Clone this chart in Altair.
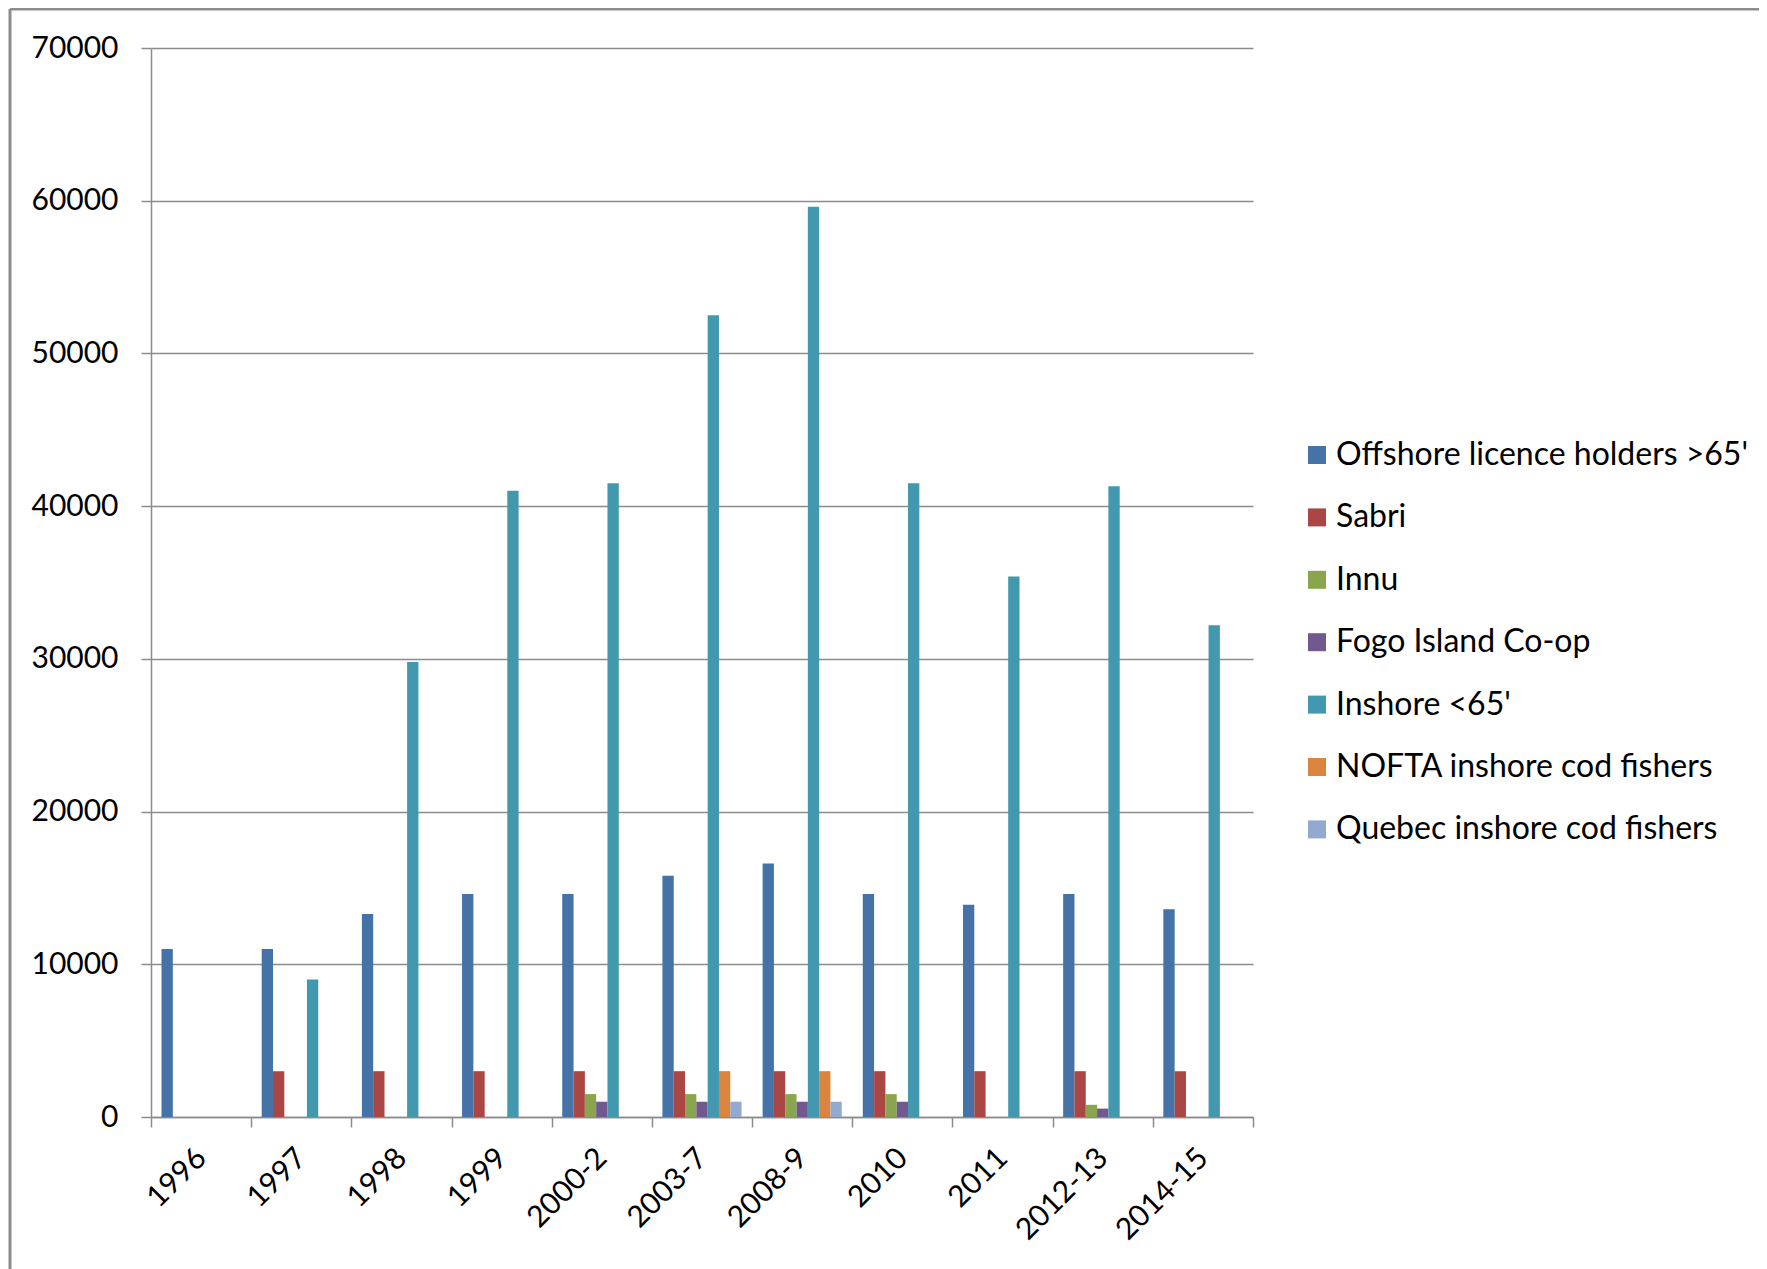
import altair as alt
import pandas as pd

categories = ["1996", "1997", "1998", "1999", "2000-2", "2003-7", "2008-9",
              "2010", "2011", "2012-13", "2014-15"]
series = ["Offshore licence holders >65'", "Sabri", "Innu", "Fogo Island Co-op",
          "Inshore <65'", "NOFTA inshore cod fishers", "Quebec inshore cod fishers"]
colors = ["#4572A7", "#AA4643", "#89A54E", "#71588F", "#4198AF", "#DB843D", "#93A9CF"]

offshore = [11000, 11000, 13300, 14600, 14600, 15800, 16600, 14600, 13900, 14600, 13600]
sabri = [0, 3000, 3000, 3000, 3000, 3000, 3000, 3000, 3000, 3000, 3000]
innu = [0, 0, 0, 0, 1500, 1500, 1500, 1500, 0, 800, 0]
fogo = [0, 0, 0, 0, 1000, 1000, 1000, 1000, 0, 550, 0]
inshore = [0, 9000, 29800, 41000, 41500, 52500, 59600, 41500, 35400, 41300, 32200]
nofta = [0, 0, 0, 0, 0, 3000, 3000, 0, 0, 0, 0]
quebec = [0, 0, 0, 0, 0, 1000, 1000, 0, 0, 0, 0]
y_ticks = [0, 10000, 20000, 30000, 40000, 50000, 60000, 70000]

rows = []
for s, vals in zip(series, [offshore, sabri, innu, fogo, inshore, nofta, quebec]):
    for c, v in zip(categories, vals):
        rows.append({"period": c, "group": s, "tonnes": v})
df = pd.DataFrame(rows)

FONT = "Lato"
W, H = 1102, 1069
GRID = "#8c8c8c"

bars = alt.Chart(df).transform_filter("datum.tonnes > 0").mark_bar().encode(
    x=alt.X("period:N", sort=categories,
            scale=alt.Scale(domain=categories, paddingInner=0, paddingOuter=0),
            axis=alt.Axis(title=None, labelAngle=-45, labelAlign="right",
                          labelBaseline="middle", tickBand="extent", grid=False,
                          tickSize=10, labelPadding=26, domainColor=GRID,
                          tickColor=GRID, domainWidth=1.5, tickWidth=1.5)),
    xOffset=alt.XOffset("group:N", sort=series,
                        scale=alt.Scale(domain=series, paddingInner=0, paddingOuter=0.93)),
    y=alt.Y("tonnes:Q", scale=alt.Scale(domain=[0, 70000]),
            axis=alt.Axis(title=None, values=y_ticks, format="d", tickSize=10,
                          labelPadding=23, gridColor=GRID, gridWidth=1.5,
                          domainColor=GRID, tickColor=GRID, domainWidth=1.5,
                          tickWidth=1.5)),
    color=alt.Color("group:N", sort=series,
                    scale=alt.Scale(domain=series, range=colors),
                    legend=alt.Legend(title=None, orient="none", legendX=1150, legendY=391,
                                      symbolType="square", symbolSize=324,
                                      symbolStrokeWidth=0, labelFontSize=32,
                                      labelFont=FONT, labelColor="black",
                                      rowPadding=30.4, labelOffset=3, padding=0,
                                      labelLimit=1000)),
)

frame_df = pd.DataFrame({"k": [0]})
frame_top = alt.Chart(frame_df).mark_rule(color="#8c8c8c", strokeWidth=3, clip=False).encode(
    x=alt.value(-141), x2=alt.value(1620), y=alt.value(-39))
frame_left = alt.Chart(frame_df).mark_rule(color="#8c8c8c", strokeWidth=3, clip=False).encode(
    x=alt.value(-141), y=alt.value(-39), y2=alt.value(1240))

chart = alt.layer(bars, frame_top, frame_left).properties(
    width=W, height=H,
    autosize=alt.AutoSizeParams(type="none"),
    padding={"left": 143, "top": 40, "right": 506, "bottom": 152},
).configure_view(stroke=None).configure_axis(
    labelFont=FONT, labelFontSize=30, labelColor="black"
)

chart.save("out.html", embed_options={"renderer": "svg", "actions": False})
